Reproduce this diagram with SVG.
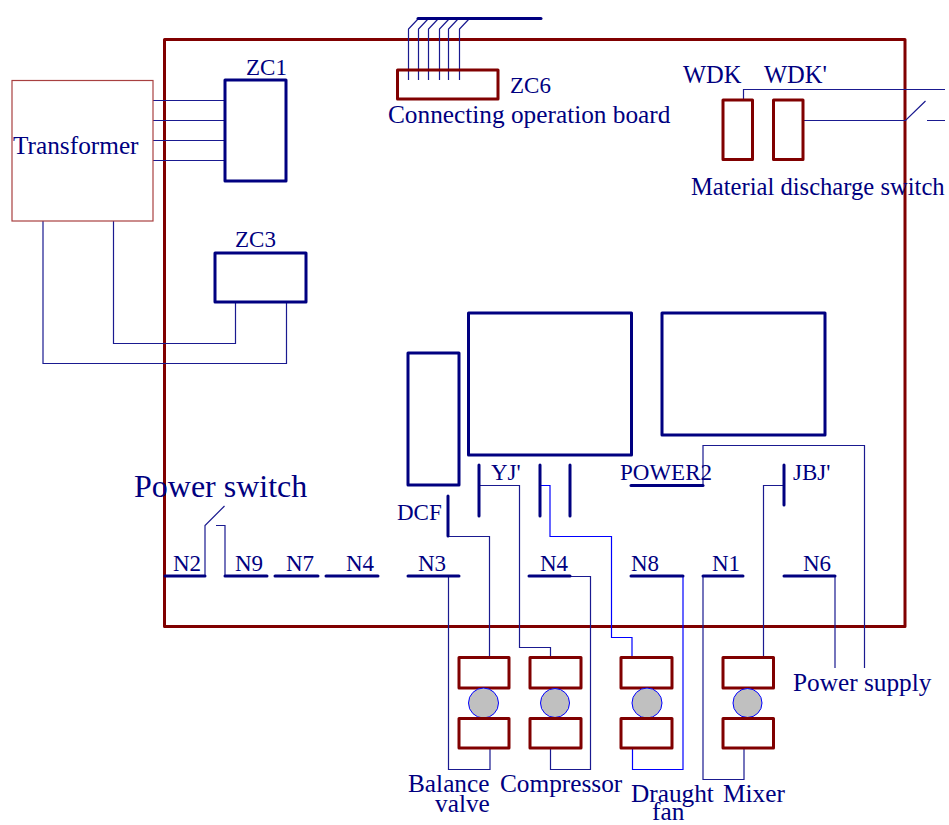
<svg xmlns="http://www.w3.org/2000/svg" width="949" height="825" viewBox="0 0 949 825">
<style>
text{font-family:"Liberation Serif","Times New Roman",serif;font-size:23px;fill:#000080}
.l{font-size:25.300px}
.f{fill:none;stroke:#800000;stroke-width:3;stroke-linejoin:round}
.n{fill:none;stroke:#000080;stroke-width:3;stroke-linejoin:round}
.t{fill:none;stroke:#000080;stroke-width:3;stroke-linecap:round}
.w{fill:none;stroke:#1a1a90;stroke-width:1.2}
.b{fill:none;stroke:#0000ff;stroke-width:1.2}
.m{fill:#c0c0c0;stroke:#0000ff;stroke-width:1}
</style>
<rect width="949" height="825" fill="#fff"/>
<g id="frame"><rect class="f" x="164.500" y="39.500" width="740.500" height="587"/></g>
<g id="connectors">
<path class="w" d="M153 100.500H224M153 120.500H224M153 140.500H224M153 160.500H224"/>
<path class="w" d="M43 221V363.500H286.500V302M113.500 221V343.500H235.500V302"/>
<path class="w" d="M408.500 80V29L418 19M418.500 80V29L428 19M428.500 80V29L438 19M439.500 80V29L449 19M448.500 80V29L458 19M459.500 80V29L469 19"/>
<path class="w" d="M743.500 100V89.500H945M804 120.500H905.500L925.500 101M927 120.500H945"/>
<path class="w" d="M205 576V525.500L224.500 506M216 525.500H225V576"/>
<path class="w" d="M448 536.500H489.500V657M479 485.500H519.500V647.500H550.500V657"/>
<path class="b" d="M540 485.500H550V536.500H611.500V637.500H632V657"/>
<path class="w" d="M784 485.500H763.500V657"/>
<path class="w" d="M448.500 576V769.500H490V748M570 576.500H590.500V769.500H550.500V748"/>
<path class="b" d="M683 576V769.500H632.500V748"/>
<path class="w" d="M703 576V779.500H744V748M835 576V668M703 485V445.500H864.500V668"/>
</g>
<g id="transformer"><rect x="12" y="80.500" width="141" height="140.500" fill="none" stroke="#a84040" stroke-width="1.200"/><text class="l" x="13" y="153.500">Transformer</text></g>
<g id="zc1"><rect class="n" x="225" y="80" width="61" height="101"/><text x="246" y="74.500">ZC1</text></g>
<g id="zc3"><rect class="n" x="215" y="253" width="91" height="49"/><text x="235" y="247">ZC3</text></g>
<g id="zc6"><path class="t" d="M418 18.500H541"/><rect class="f" x="397.500" y="70" width="100.500" height="29"/><text x="510" y="93">ZC6</text><text class="l" x="388" y="123">Connecting operation board</text></g>
<g id="wdk"><rect class="f" x="723" y="100" width="29.500" height="59.500"/><text x="683" y="83" style="font-size:24.500px">WDK</text></g>
<g id="wdk2"><rect class="f" x="773.500" y="100" width="29.500" height="59.500"/><text x="764" y="83" style="font-size:24.500px">WDK'</text></g>
<g id="material-switch"><text x="691" y="195" style="font-size:24.600px">Material discharge switch</text></g>
<g id="box-left"><rect class="n" x="408" y="353" width="51" height="132"/></g>
<g id="box-mid"><rect class="n" x="468.500" y="313" width="163" height="142"/></g>
<g id="box-right"><rect class="n" x="662" y="313" width="163" height="122"/></g>
<g id="power-switch"><text x="134" y="497" style="font-size:32px">Power switch</text></g>
<g id="dcf"><path class="t" d="M448 496V536"/><text x="397" y="520">DCF</text></g>
<g id="yj"><path class="t" d="M479 465V516"/><text x="491" y="480">YJ'</text></g>
<g id="contact-a"><path class="t" d="M540 465V516"/></g>
<g id="contact-b"><path class="t" d="M570 465V516"/></g>
<g id="power2"><path class="t" d="M631 485.500H703"/><text x="620" y="480">POWER2</text></g>
<g id="jbj"><path class="t" d="M784 465V505"/><text x="793" y="480">JBJ'</text></g>
<g id="n2"><path class="t" d="M165 576H205"/><text x="173" y="571">N2</text></g>
<g id="n9"><path class="t" d="M225 576H267"/><text x="235" y="571">N9</text></g>
<g id="n7"><path class="t" d="M275 576H318"/><text x="286" y="571">N7</text></g>
<g id="n4a"><path class="t" d="M326 576H378"/><text x="346" y="571">N4</text></g>
<g id="n3"><path class="t" d="M408 576H459"/><text x="418" y="571">N3</text></g>
<g id="n4b"><path class="t" d="M529 576H570"/><text x="540" y="571">N4</text></g>
<g id="n8"><path class="t" d="M631 576H683"/><text x="631" y="571">N8</text></g>
<g id="n1"><path class="t" d="M703 576H743"/><text x="712" y="571">N1</text></g>
<g id="n6"><path class="t" d="M784 576H835"/><text x="803" y="571">N6</text></g>
<g id="balance-valve"><rect class="f" x="459" y="657.500" width="50" height="30.500"/><circle class="m" cx="483.500" cy="703" r="15"/><rect class="f" x="459" y="718.500" width="50" height="29.500"/><text class="l" x="408" y="792">Balance</text><text class="l" x="435" y="812">valve</text></g>
<g id="compressor"><rect class="f" x="530" y="657.500" width="51" height="30.500"/><circle class="m" cx="555" cy="703" r="14.500"/><rect class="f" x="530" y="718.500" width="51" height="29.500"/><text class="l" x="500" y="792">Compressor</text></g>
<g id="draught-fan"><rect class="f" x="621" y="657.500" width="51" height="30.500"/><circle class="m" cx="647" cy="703" r="15"/><rect class="f" x="621" y="718.500" width="51" height="29.500"/><text class="l" x="631" y="802">Draught</text><text class="l" x="652" y="819.500">fan</text></g>
<g id="mixer"><rect class="f" x="723" y="657.500" width="50.500" height="30.500"/><circle class="m" cx="747.500" cy="703" r="14.500"/><rect class="f" x="723" y="718.500" width="50.500" height="29.500"/><text class="l" x="723" y="802">Mixer</text></g>
<g id="power-supply"><text class="l" x="793" y="691">Power supply</text></g>
</svg>
